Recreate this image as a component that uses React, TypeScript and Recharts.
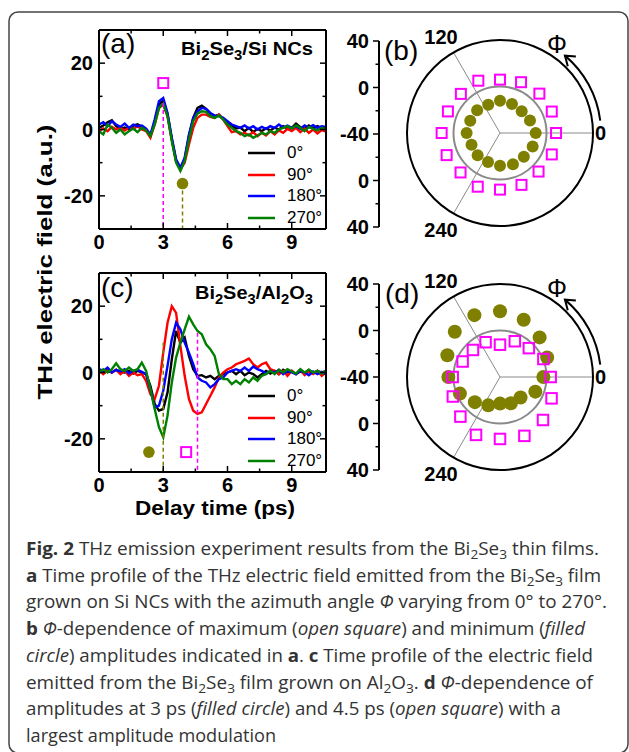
import React from "react";
import {
  LineChart,
  Line,
  XAxis,
  YAxis,
  ReferenceLine,
  ReferenceDot,
  Legend,
  ComposedChart,
  RadarChart,
  Radar,
  PolarGrid,
  PolarAngleAxis,
  PolarRadiusAxis,
} from "recharts";

// ---------- data ----------
const TIME = [
  0, 0.2, 0.4, 0.6, 0.8, 1.0, 1.2, 1.4, 1.6, 1.8,
  2.0, 2.2, 2.4, 2.6, 2.8, 3.0, 3.2, 3.4, 3.6, 3.8,
  4.0, 4.2, 4.4, 4.6, 4.8, 5.0, 5.2, 5.4, 5.6, 5.8,
  6.0, 6.2, 6.4, 6.6, 6.8, 7.0, 7.2, 7.4, 7.6, 7.8,
  8.0, 8.2, 8.4, 8.6, 8.8, 9.0, 9.2, 9.4, 9.6, 9.8,
  10.0, 10.2, 10.4, 10.6,
];

// (a) Bi2Se3 / Si NCs
const A_0 = [
  0.5, 1.2, 2.2, 2.8, 1.0, 0.2, 0.6, 0.0, 1.2, 1.6,
  0.8, 0.0, -2.0, 2.0, 7.5, 8.8, 4.5, -3.0, -9.5, -12.0,
  -9.0, -2.0, 3.5, 6.5, 7.2, 6.2, 4.8, 4.0, 4.5, 3.2,
  2.0, 1.2, 0.3, 0.6, -0.5, 0.5, -0.8, 0.2, -0.5, 0.4,
  -0.3, 0.6, 0.0, 1.0, 0.3, 0.5, 1.8, 0.7, 0.2, 1.2,
  0.3, 1.0, 0.4, 0.8,
];
const A_90 = [
  -0.5, 0.3, -0.5, 0.8, 0.0, 0.5, -0.3, 0.6, 0.2, 1.0,
  0.0, -0.5, -2.5, 1.5, 6.5, 7.5, 4.0, -3.0, -9.5, -12.0,
  -10.0, -4.5, 0.5, 3.5, 4.5, 4.5, 3.8, 3.5, 4.5, 3.0,
  1.0, -0.8, -0.5, -1.5, -1.0, -1.8, -0.8, -2.0, -1.0, -1.8,
  -0.5, -1.5, -0.3, -1.0, 0.2, -0.5, 0.5, -0.8, 0.3, -1.0,
  0.0, -1.2, -0.2, -0.6,
];
const A_180 = [
  1.5, 2.2, 1.0, 2.5, 1.5, 0.8, 1.8, 0.5, 1.5, 1.0,
  1.2, 0.3, -1.5, 3.0, 8.5, 9.5, 5.0, -2.5, -9.0, -11.5,
  -8.5, -1.5, 3.5, 5.5, 6.5, 6.2, 5.0, 4.2, 4.0, 3.5,
  2.5, 1.5, 1.0, 0.5, 1.2, 0.3, 1.0, 0.0, 0.8, 0.2,
  1.0, 0.5, 1.5, 0.6, 1.2, 0.5, 1.0, 0.2, 1.2, 0.6,
  1.3, 0.5, 1.0, 0.8,
];
const A_270 = [
  -0.5, -1.5, 1.5, 0.5, -1.0, 0.0, -1.5, -0.5, 0.3, -0.8,
  0.5, -0.3, -2.0, 1.5, 6.5, 7.8, 4.0, -3.5, -10.0, -12.5,
  -9.5, -3.0, 2.5, 4.8, 5.5, 5.3, 4.0, 3.5, 4.2, 3.0,
  1.5, 0.5, -0.5, -1.0, -2.0, -1.5, -2.5, -1.8, -1.0, -1.5,
  -0.5, -1.0, 0.0, 0.5, 1.0, 0.3, 1.2, 0.5, -0.5, 0.8,
  0.2, -0.3, 0.5, 0.0,
];

// (c) Bi2Se3 / Al2O3
const C_0 = [
  0.5, -0.3, 0.5, 0.0, 0.8, 0.2, 0.0, 0.5, -0.3, 0.5,
  0.0, -0.5, -4.0, -9.5, -11.5, -11.0, -6.0, 4.0, 12.5, 9.0,
  10.5, 5.0, 1.0, -1.0, -0.8, -1.5, -1.0, -2.0, -1.0, -0.5,
  0.0, 0.5, -0.5, 0.5, -0.8, 0.0, -0.5, -1.5, -0.5, 0.5,
  -0.3, 0.5, -0.5, 0.8, 0.0, 0.5, -0.5, 0.3, -0.2, 0.8,
  -0.3, 0.5, 0.0, 0.5,
];
const C_90 = [
  0.5, -0.5, 1.0, 0.0, 0.8, -0.5, 0.5, -1.0, 0.0, -0.8,
  -0.5, -2.5, -6.5, -8.0, -4.0, 6.0, 15.0, 20.0, 18.0, 8.0,
  -1.0, -8.0, -11.5, -12.5, -12.0, -9.5, -7.0, -4.5, -1.5, 0.0,
  1.0, 1.5, 2.5, 3.0, 3.5, 4.2, 2.5, 1.5, 2.5, 3.0,
  1.0, 0.5, -0.5, 0.5, -1.0, 0.5, -0.5, 0.8, -0.8, 0.3,
  -0.5, 0.5, -1.0, 0.0,
];
const C_180 = [
  1.0, 0.5, 1.5, 0.0, 0.8, 0.3, 1.0, -0.3, 0.5, 0.8,
  0.2, -0.5, -5.0, -10.5, -10.0, -5.5, 2.0, 10.0, 15.0, 13.0,
  9.0, 6.0, 2.5, -1.5, -2.5, -3.0, -4.5, -3.5, -2.0, -1.5,
  0.0, 0.5, 1.0, 0.5, 1.5, 0.5, 1.8, 1.0, 0.5, -0.3,
  0.5, 0.0, 0.8, -0.5, 0.5, 0.0, -0.5, 0.5, 0.0, -0.8,
  0.3, -0.5, 0.2, -0.5,
];
const C_270 = [
  0.0, 1.0, 0.0, 1.0, 2.8, 1.0, 0.5, 1.5, 0.5, 1.0,
  3.0, 0.5, -5.0, -11.0, -16.5, -19.5, -13.0, -3.0, 4.5, 9.0,
  13.0, 16.8, 14.5, 12.5, 11.5, 8.5, 7.0, 5.0, -0.5, -2.0,
  -2.0, -3.5, -2.5, -3.5, -2.0, -3.0, -1.5, -2.5, -1.0, -0.5,
  0.5, -0.5, 0.8, 0.0, 1.0, 0.3, -0.3, 1.0, 0.0, 0.8,
  0.0, 0.5, -0.3, 0.5,
];

const SERIES_NAMES = ["0°", "90°", "180°", "270°"];
const SERIES_COLORS = ["#000000", "#ff0000", "#0000ff", "#008000"];

const X_TICKS = [0, 1.5, 3, 4.5, 6, 7.5, 9];
const X_LABELS = [0, 3, 6, 9];
const Y_TICKS = [-20, -10, 0, 10, 20];
const Y_LABELS = [-20, 0, 20];

// marker positions [time, amplitude] and guide segments [time, from, to]
const A_MAX_MARK = [3.0, 14];
const A_MIN_MARK = [3.9, -16.3];
const A_MAX_GUIDE = [3.0, 8, -30];
const A_MIN_GUIDE = [3.9, -16.3, -30];
const C_CIRCLE_MARK = [2.33, -24];
const C_SQUARE_MARK = [4.07, -24];
const C_CIRCLE_GUIDE = [3.0, 9, -30];
const C_SQUARE_GUIDE = [4.6, 12, -30];

// polar panels: azimuth angle (deg) and amplitudes
const PHI = [0, 22.5, 45, 67.5, 90, 112.5, 135, 157.5, 180, 202.5, 225, 247.5, 270, 292.5, 315, 337.5];
const PHI_LABELS = [0, 120, 240];
const B_MAX = [8.2, 8.2, 7.9, 7.3, 5.9, 8.7, 7.6, 8.5, 10.2, 9.7, 8.0, 10.0, 8.7, 8.3, 6.9, 8.2];
const B_MIN = [-9.3, -12.1, -13.6, -13.1, -12.2, -13.6, -12.2, -12.3, -11.3, -13.5, -12.8, -13.1, -11.9, -10.9, -11.0, -9.6];
const D_3PS = [-2.7, 3.9, 8.2, 13.3, 16.5, 17.6, 15.0, 9.0, 4.4, -2.7, -9.4, -13.6, -17.1, -15.5, -15.0, -7.1];
const D_45PS = [3.6, 0.4, -4.9, -6.7, -12.2, -7.6, -7.1, -5.2, 0.7, 3.9, 8.2, 13.9, 13.3, 14.8, 12.3, 8.0];
const RADIAL_DOMAIN = [-40, 40];
// signed distance from the centre along the vertical scale (radius units)
const RADIAL_TICKS = [-80, -60, -40, -20, 0, 20, 40, 60, 80];
const RADIAL_LABELS = [-80, -40, 0, 40, 80];

// ---------- styles ----------
const FONT = "'Liberation Sans', Arial, sans-serif";
const CAP_FONT = "'Open Sans', 'Noto Sans', sans-serif";
const MAGENTA = "#ff00ff";
const OLIVE = "#7f7f00";
const GRID_GRAY = "#8a8a8a";

const TRACE_W = 345;
const TRACE_H = 260;
const POLAR_LEFT = 395;
const POLAR_W = 234;
const POLAR_H = 230;
const POLAR_CX = 105;
const POLAR_CY = 115;
const POLAR_R = 93;
const ZERO_R = (POLAR_R * (0 - RADIAL_DOMAIN[0])) / (RADIAL_DOMAIN[1] - RADIAL_DOMAIN[0]);

// ---------- ticks ----------
function LeftTick(props: any) {
  const { x, y, payload } = props;
  const major = Y_LABELS.includes(payload.value);
  return (
    <g>
      <line x1={x} y1={y} x2={x + (major ? 6 : 3.5)} y2={y} stroke="#000" strokeWidth={1.5} />
      {major && (
        <text x={x - 6} y={y + 7} textAnchor="end" fontFamily={FONT} fontWeight="bold" fontSize={20} fill="#000">
          {payload.value}
        </text>
      )}
    </g>
  );
}
function RightTick(props: any) {
  const { x, y, payload } = props;
  const major = Y_LABELS.includes(payload.value);
  return <line x1={x} y1={y} x2={x - (major ? 6 : 3.5)} y2={y} stroke="#000" strokeWidth={1.5} />;
}
function BottomTick(props: any) {
  const { x, y, payload } = props;
  const major = X_LABELS.includes(payload.value);
  return (
    <g>
      <line x1={x} y1={y} x2={x} y2={y - (major ? 6 : 3.5)} stroke="#000" strokeWidth={1.5} />
      {major && (
        <text x={x} y={y + 19.5} textAnchor="middle" fontFamily={FONT} fontWeight="bold" fontSize={20} fill="#000">
          {payload.value}
        </text>
      )}
    </g>
  );
}
function TopTick(props: any) {
  const { x, y, payload } = props;
  const major = X_LABELS.includes(payload.value);
  return <line x1={x} y1={y} x2={x} y2={y + (major ? 6 : 3.5)} stroke="#000" strokeWidth={1.5} />;
}
function RadialTick(props: any) {
  const { x, y, payload } = props;
  const major = RADIAL_LABELS.includes(payload.value);
  return (
    <g>
      <line x1={x} y1={y} x2={x - (major ? 6 : 3.5)} y2={y} stroke="#000" strokeWidth={1.5} />
      {major && (
        <text x={x - 10} y={y + 7} textAnchor="end" fontFamily={FONT} fontWeight="bold" fontSize={20} fill="#000">
          {RADIAL_DOMAIN[0] + Math.abs(payload.value)}
        </text>
      )}
    </g>
  );
}
function AngleTick(props: any) {
  const { x, y, payload } = props;
  const v = payload.value;
  if (!PHI_LABELS.includes(v)) return <g />;
  let tx = x - 8.5;
  let ty = y - 8.5;
  let anchor = "middle";
  if (v === 0) {
    tx = x - 6;
    ty = y;
    anchor = "start";
  } else if (v > 180) {
    ty = y + 9.5;
  }
  return (
    <text x={tx} y={ty} textAnchor={anchor} dominantBaseline="central" fontFamily={FONT} fontWeight="bold" fontSize={20} fill="#000">
      {v}
    </text>
  );
}

function squareShape(size: number) {
  return (p: any) => (
    <rect x={p.cx - size / 2} y={p.cy - size / 2} width={size} height={size} fill="none" stroke={MAGENTA} strokeWidth={2} />
  );
}
function circleShape(r: number) {
  return (p: any) => <circle cx={p.cx} cy={p.cy} r={r} fill={OLIVE} stroke="none" />;
}

function TraceLegend(props: any) {
  const items = (props.payload || [])
    .filter((it: any) => SERIES_NAMES.includes(it.value))
    .sort((a: any, b: any) => SERIES_NAMES.indexOf(a.value) - SERIES_NAMES.indexOf(b.value));
  return (
    <div style={{ fontFamily: FONT, fontSize: 17, color: "#000" }}>
      {items.map((it: any) => (
        <div key={it.value} style={{ display: "flex", alignItems: "center", height: 21.5 }}>
          <svg width={27} height={4} style={{ marginRight: 12 }}>
            <line x1={0} y1={2} x2={27} y2={2} stroke={it.color} strokeWidth={2.5} />
          </svg>
          <span>{it.value}</span>
        </div>
      ))}
    </div>
  );
}

// ---------- panels ----------
function TracePanel(props: {
  top: number;
  series: number[][];
  marks: { pos: number[]; kind: string }[];
  guides: { seg: number[]; color: string }[];
}) {
  const data = TIME.map((t, i) => ({
    t,
    s0: props.series[0][i],
    s1: props.series[1][i],
    s2: props.series[2][i],
    s3: props.series[3][i],
  }));
  const axisLine = { stroke: "#000", strokeWidth: 2 };
  return (
    <div style={{ position: "absolute", left: 0, top: props.top, width: TRACE_W, height: TRACE_H }}>
      <LineChart width={TRACE_W} height={TRACE_H} data={data} margin={{ top: 29, right: 18, bottom: 6, left: 39 }}>
        <XAxis dataKey="t" type="number" domain={[0, 10.6]} ticks={X_TICKS} interval={0} height={25}
          tickSize={0} tickMargin={0} tickLine={false} axisLine={axisLine} tick={BottomTick} allowDataOverflow />
        <XAxis xAxisId="top" dataKey="t" orientation="top" type="number" domain={[0, 10.6]} ticks={X_TICKS} interval={0} height={1}
          tickSize={0} tickMargin={0} tickLine={false} axisLine={axisLine} tick={TopTick} allowDataOverflow />
        <YAxis type="number" domain={[-30, 30]} ticks={Y_TICKS} interval={0} width={60}
          tickSize={0} tickMargin={0} tickLine={false} axisLine={axisLine} tick={LeftTick} allowDataOverflow />
        <YAxis yAxisId="right" orientation="right" type="number" domain={[-30, 30]} ticks={Y_TICKS} interval={0} width={1}
          tickSize={0} tickMargin={0} tickLine={false} axisLine={axisLine} tick={RightTick} allowDataOverflow />
        {/* frame axes (top / right) bound to an invisible copy of the first trace */}
        <Line xAxisId="top" yAxisId="right" dataKey="s0" stroke="none" dot={false} legendType="none"
          isAnimationActive={false} />
        {SERIES_NAMES.map((name, k) => (
          <Line key={name} type="linear" dataKey={`s${k}`} name={name} stroke={SERIES_COLORS[k]} strokeWidth={2.4}
            dot={false} isAnimationActive={false} />
        ))}
        {props.guides.map((g, k) => (
          <ReferenceLine key={`g${k}`} segment={[{ x: g.seg[0], y: g.seg[1] }, { x: g.seg[0], y: g.seg[2] }]}
            stroke={g.color} strokeWidth={1.5} strokeDasharray="4 3" />
        ))}
        {props.marks.map((m, k) => (
          <ReferenceDot key={`m${k}`} x={m.pos[0]} y={m.pos[1]} r={6}
            shape={m.kind === "square" ? squareShape(10) : circleShape(5.8)} />
        ))}
        <Legend layout="vertical" align="center" verticalAlign="middle" content={TraceLegend}
          wrapperStyle={{ left: 248, top: 142.5, width: 80 }} />
      </LineChart>
    </div>
  );
}

function RadialScale(props: { top: number }) {
  return (
    <div style={{ position: "absolute", left: 320, top: props.top, width: 70, height: 210 }}>
      <ComposedChart width={70} height={210} data={RADIAL_TICKS.map((v, i) => ({ i, v }))}
        margin={{ top: 11, right: 0, bottom: 13, left: 0 }}>
        <XAxis dataKey="i" hide />
        <YAxis type="number" domain={[-80, 80]} ticks={RADIAL_TICKS} interval={0} width={59}
          tickSize={0} tickMargin={0} tickLine={false} axisLine={{ stroke: "#000", strokeWidth: 2 }} tick={RadialTick} />
        <Line dataKey="v" stroke="none" dot={false} legendType="none" isAnimationActive={false} />
      </ComposedChart>
    </div>
  );
}

function PolarPanel(props: { top: number; circles: number[]; squares: number[]; circleR: number; squareSize: number }) {
  const data = PHI.map((phi, i) => ({ phi, c: props.circles[i], s: props.squares[i] }));
  const sq = squareShape(props.squareSize);
  const ci = circleShape(props.circleR);
  return (
    <div style={{ position: "absolute", left: POLAR_LEFT, top: props.top, width: POLAR_W, height: POLAR_H }}>
      <RadarChart width={POLAR_W} height={POLAR_H} data={data} cx={POLAR_CX} cy={POLAR_CY}
        innerRadius={0} outerRadius={POLAR_R} startAngle={0} endAngle={360}
        margin={{ top: 0, right: 0, bottom: 0, left: 0 }}>
        <PolarGrid gridType="circle" polarAngles={PHI_LABELS} polarRadius={[]} stroke={GRID_GRAY} strokeWidth={1} />
        <PolarGrid gridType="circle" radialLines={false} polarAngles={PHI_LABELS} polarRadius={[ZERO_R]}
          stroke={GRID_GRAY} strokeWidth={2} />
        <PolarAngleAxis dataKey="phi" type="number" domain={[0, 360]} ticks={PHI_LABELS} stroke="#000"
          axisLineType="circle" axisLine={{ stroke: "#000", strokeWidth: 2 }} tickLine={false} tick={AngleTick} />
        <PolarRadiusAxis type="number" domain={RADIAL_DOMAIN} tick={false} axisLine={false} />
        <Radar dataKey="c" stroke="none" fill="none" isAnimationActive={false}
          dot={(p: any) => <g key={`c${p.index}`}>{ci(p)}</g>} />
        <Radar dataKey="s" stroke="none" fill="none" isAnimationActive={false}
          dot={(p: any) => <g key={`s${p.index}`}>{sq(p)}</g>} />
      </RadarChart>
    </div>
  );
}

// ---------- annotations ----------
function PhiArrow(props: { cy: number }) {
  const cx = POLAR_LEFT + POLAR_CX;
  const cy = props.cy;
  const r = 101;
  const a0 = (7 * Math.PI) / 180;
  const a1 = (50 * Math.PI) / 180;
  const sx = cx + r * Math.cos(a0);
  const sy = cy - r * Math.sin(a0);
  const ex = cx + r * Math.cos(a1);
  const ey = cy - r * Math.sin(a1);
  const back = Math.atan2(Math.cos(a1), Math.sin(a1));
  const arm = 11;
  const w = (35 * Math.PI) / 180;
  const p1 = [ex + arm * Math.cos(back - w), ey + arm * Math.sin(back - w)];
  const p2 = [ex + arm * Math.cos(back + w), ey + arm * Math.sin(back + w)];
  return (
    <g>
      <path d={`M${sx},${sy} A${r},${r} 0 0 0 ${ex},${ey}`} fill="none" stroke="#000" strokeWidth={2} />
      <path d={`M${p1[0]},${p1[1]} L${ex},${ey} L${p2[0]},${p2[1]}`} fill="none" stroke="#000" strokeWidth={2} />
      <text x={cx + 57} y={cy - 89} textAnchor="middle" dominantBaseline="central" fontFamily={FONT} fontSize={25} fill="#000">
        Φ
      </text>
    </g>
  );
}

function Formula(props: { x: number; y: number; parts: [string, boolean][]; len: number }) {
  let shifted = false;
  return (
    <text x={props.x} y={props.y} fontFamily={FONT} fontWeight="bold" fontSize={19} fill="#000"
      textLength={props.len} lengthAdjust="spacingAndGlyphs" style={{ whiteSpace: "pre" }}>
      {props.parts.map(([t, sub], i) => {
        const p: any = { key: i };
        if (sub) {
          p.dy = 5;
          p.fontSize = 14;
          shifted = true;
        } else if (shifted) {
          p.dy = -5;
          shifted = false;
        }
        return <tspan {...p}>{t}</tspan>;
      })}
    </text>
  );
}

const CAPTION: [string, string][][] = [
  [["Fig. 2", "b"], [" THz emission experiment results from the Bi", ""], ["2", "s"], ["Se", ""], ["3", "s"], [" thin films.", ""]],
  [["a", "b"], [" Time profile of the THz electric field emitted from the Bi", ""], ["2", "s"], ["Se", ""], ["3", "s"], [" film", ""]],
  [["grown on Si NCs with the azimuth angle ", ""], ["Φ", "i"], [" varying from 0° to 270°.", ""]],
  [["b", "b"], [" ", ""], ["Φ", "i"], ["-dependence of maximum (", ""], ["open square", "i"], [") and minimum (", ""], ["filled", "i"]],
  [["circle", "i"], [") amplitudes indicated in ", ""], ["a", "b"], [". ", ""], ["c", "b"], [" Time profile of the electric field", ""]],
  [["emitted from the Bi", ""], ["2", "s"], ["Se", ""], ["3", "s"], [" film grown on Al", ""], ["2", "s"], ["O", ""], ["3", "s"], [". ", ""], ["d", "b"], [" ", ""], ["Φ", "i"], ["-dependence of", ""]],
  [["amplitudes at 3 ps (", ""], ["filled circle", "i"], [") and 4.5 ps (", ""], ["open square", "i"], [") with a", ""]],
  [["largest amplitude modulation", ""]],
];
const CAPTION_ENDS = [599, 601, 607, 585, 593, 593, 561, 276];
const CAP_X = 26;
const CAP_Y0 = 555;
const CAP_DY = 26.7;

function Caption() {
  return (
    <g>
      {CAPTION.map((segs, li) => {
        let shifted = false;
        return (
          <text key={li} x={CAP_X} y={CAP_Y0 + li * CAP_DY} fontFamily={CAP_FONT} fontSize={18} fill="#333"
            textLength={CAPTION_ENDS[li] - CAP_X} lengthAdjust="spacingAndGlyphs" style={{ whiteSpace: "pre" }}>
            {segs.map(([t, st], i) => {
              const p: any = { key: i };
              if (st === "s") {
                p.dy = 4;
                p.fontSize = 13;
                shifted = true;
              } else if (shifted) {
                p.dy = -4;
                shifted = false;
              }
              if (st === "b") p.fontWeight = "bold";
              if (st === "i") p.fontStyle = "italic";
              return <tspan {...p}>{t}</tspan>;
            })}
          </text>
        );
      })}
    </g>
  );
}

export default function App() {
  return (
    <div style={{ position: "absolute", left: 0, top: 0, width: 629, height: 752, background: "#fff", overflow: "hidden" }}>
      <TracePanel
        top={0}
        series={[A_0, A_90, A_180, A_270]}
        marks={[{ pos: A_MAX_MARK, kind: "square" }, { pos: A_MIN_MARK, kind: "circle" }]}
        guides={[{ seg: A_MAX_GUIDE, color: MAGENTA }, { seg: A_MIN_GUIDE, color: OLIVE }]}
      />
      <TracePanel
        top={243}
        series={[C_0, C_90, C_180, C_270]}
        marks={[{ pos: C_CIRCLE_MARK, kind: "circle" }, { pos: C_SQUARE_MARK, kind: "square" }]}
        guides={[{ seg: C_CIRCLE_GUIDE, color: OLIVE }, { seg: C_SQUARE_GUIDE, color: MAGENTA }]}
      />
      <RadialScale top={30} />
      <RadialScale top={273} />
      <PolarPanel top={18} circles={B_MIN} squares={B_MAX} circleR={6} squareSize={10} />
      <PolarPanel top={262} circles={D_3PS} squares={D_45PS} circleR={7} squareSize={10.5} />
      <svg width={629} height={752} style={{ position: "absolute", left: 0, top: 0, pointerEvents: "none" }}>
        <rect x={9} y={12} width={619} height={741} rx={9} fill="none" stroke="#444" strokeWidth={1.5} />
        <text transform="translate(45,262) rotate(-90)" textAnchor="middle" dominantBaseline="central"
          fontFamily={FONT} fontWeight="bold" fontSize={20} fill="#000" textLength={275} lengthAdjust="spacingAndGlyphs">
          THz electric field (a.u.)
        </text>
        <text x={215} y={515} textAnchor="middle" fontFamily={FONT} fontWeight="bold" fontSize={20} fill="#000"
          textLength={160} lengthAdjust="spacingAndGlyphs">
          Delay time (ps)
        </text>
        <text x={101} y={53} fontFamily={FONT} fontSize={28} fill="#000">(a)</text>
        <text x={101} y={297} fontFamily={FONT} fontSize={28} fill="#000">(c)</text>
        <text x={384} y={60} fontFamily={FONT} fontSize={28} fill="#000">(b)</text>
        <text x={385} y={303} fontFamily={FONT} fontSize={28} fill="#000">(d)</text>
        <Formula x={181} y={55} len={132} parts={[["Bi", false], ["2", true], ["Se", false], ["3", true], ["/Si NCs", false]]} />
        <Formula x={195} y={299} len={118}
          parts={[["Bi", false], ["2", true], ["Se", false], ["3", true], ["/Al", false], ["2", true], ["O", false], ["3", true]]} />
        <PhiArrow cy={18 + POLAR_CY} />
        <PhiArrow cy={262 + POLAR_CY} />
        <Caption />
      </svg>
    </div>
  );
}
